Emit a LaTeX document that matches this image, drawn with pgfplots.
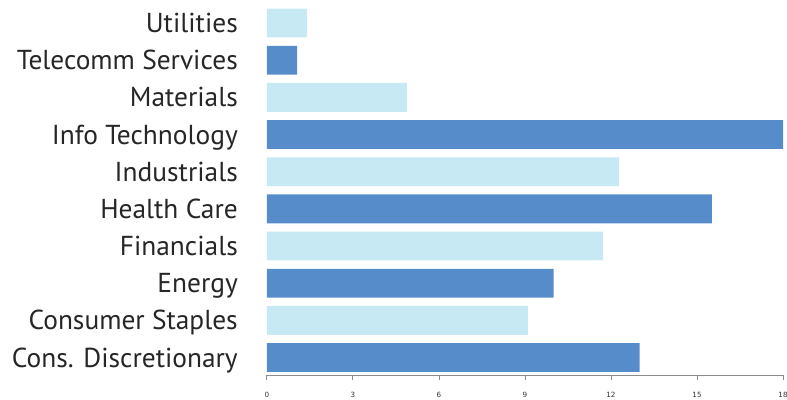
\documentclass[border=0pt]{standalone}
\usepackage{fontspec}
\setmainfont{PT Sans}
\newfontfamily\tickfont{DejaVu Sans}
\usepackage{pgfplots}
\pgfplotsset{compat=1.18}
\definecolor{barDark}{HTML}{578CCB}
\definecolor{barLight}{HTML}{C7E9F3}
\definecolor{axGray}{HTML}{8C8C8C}
\begin{document}
\begin{tikzpicture}
\begin{axis}[
  at={(0,0)}, anchor=south west,
  scale only axis,
  width=516bp, height=375bp,
  xbar, bar width=0.775, bar shift=0pt,
  xmin=0, xmax=18,
  ymin=-0.47, ymax=9.62,
  xtick={0,3,...,18},
  ytick={0,...,9},
  yticklabels={Cons. Discretionary,Consumer Staples,Energy,Financials,Health Care,Industrials,Info Technology,Materials,Telecomm Services,Utilities},
  yticklabel style={font=\fontsize{27.5}{30}\selectfont, color=black!85,
    inner sep=0pt, text height=19.3pt, text depth=0pt, anchor=east, xshift=-24bp},
  xticklabel style={font=\tickfont\fontsize{7.2}{8}\selectfont, color=black!80, yshift=-9bp},
  /pgf/number format/assume math mode=true,
  axis x line*=bottom, axis y line*=left,
  x axis line style={draw=axGray, line width=1pt, -},
  y axis line style={draw=none},
  xtick align=outside, major x tick style={draw=axGray, line width=1pt},
  major tick length=5bp,
  major y tick style={draw=none},
  clip=false,
]
% dark bars
\addplot[draw=none, fill=barDark] coordinates {(13.0,0) (10.0,2) (15.52,4) (18.0,6) (1.05,8)};
% light bars
\addplot[draw=none, fill=barLight] coordinates {(9.1,1) (11.72,3) (12.28,5) (4.88,7) (1.4,9)};
\end{axis}
\pgfresetboundingbox
\path[use as bounding box] (-267bp,-25bp) rectangle (520bp,375bp);
\end{tikzpicture}
\end{document}
